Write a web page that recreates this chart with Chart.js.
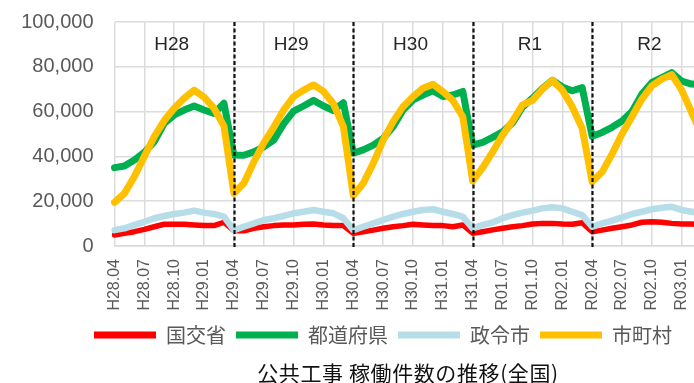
<!DOCTYPE html>
<html lang="ja">
<head>
<meta charset="utf-8">
<script src="https://cdn.jsdelivr.net/npm/chart.js@4/dist/chart.umd.min.js"></script>
<style>
  html, body { margin: 0; padding: 0; background: #fff; }
  #frame { width: 694px; height: 383px; overflow: hidden; position: relative; }
  #frame canvas { display: block; }
</style>
</head>
<body>
<div id="frame"><canvas id="chart" width="744" height="383"></canvas></div>
<script>
// Monthly categories, April H28 through March R03
const months = [
  'H28.04','H28.05','H28.06','H28.07','H28.08','H28.09','H28.10','H28.11','H28.12',
  'H29.01','H29.02','H29.03','H29.04','H29.05','H29.06','H29.07','H29.08','H29.09','H29.10','H29.11','H29.12',
  'H30.01','H30.02','H30.03','H30.04','H30.05','H30.06','H30.07','H30.08','H30.09','H30.10','H30.11','H30.12',
  'H31.01','H31.02','H31.03','H31.04',
  'R01.05','R01.06','R01.07','R01.08','R01.09','R01.10','R01.11','R01.12',
  'R02.01','R02.02','R02.03','R02.04','R02.05','R02.06','R02.07','R02.08','R02.09','R02.10','R02.11','R02.12',
  'R03.01','R03.02','R03.03'
];

// 国交省
const mlit = [
  4900, 5700, 6400, 7400, 8600, 9700, 9700, 9700, 9400, 9100, 9100, 10600,
  6800, 6800, 7900, 8600, 9100, 9400, 9400, 9700, 9800, 9400, 9100, 9100,
  5700, 6400, 7100, 7900, 8600, 9100, 9700, 9400, 9100, 9100, 8600, 9400,
  5700, 6400, 7200, 7900, 8600, 9100, 9800, 10100, 10100, 9800, 9700, 10400,
  6400, 7100, 7900, 8600, 9400, 10600, 10800, 10600, 10100, 9800, 9800, 9500
];

// 都道府県
const prefectures = [
  35000, 35700, 38400, 41800, 46600, 54800, 58500, 60700, 62500, 60700, 59200, 63700,
  40600, 40500, 42000, 44300, 47300, 54500, 60200, 62500, 65000, 62500, 60500, 64000,
  41500, 42900, 45000, 48000, 53300, 60700, 65200, 67400, 69300, 66700, 67400, 69000,
  45000, 46300, 48500, 51000, 55000, 62000, 66000, 70300, 74000, 71000, 69300, 70700,
  49000, 50700, 53000, 55800, 60000, 67800, 73000, 75200, 77400, 73600, 72300, 72000
];

// 政令市
const designatedCities = [
  7100, 7900, 9400, 10800, 12400, 13400, 14300, 14900, 15800, 14900, 14300, 13100,
  7100, 8600, 10100, 11600, 12400, 13400, 14600, 15300, 16100, 15300, 14600, 12400,
  7100, 8600, 10100, 11600, 13100, 14300, 15300, 16100, 16400, 15300, 14300, 13100,
  7900, 9400, 10500, 12400, 13800, 14900, 15800, 16800, 17300, 16800, 15300, 13800,
  8600, 10100, 11300, 12800, 14300, 15300, 16400, 17100, 17500, 16100, 15300, 14500
];

// 市町村
const municipalities = [
  19500, 23500, 31000, 40000, 48800, 56000, 61500, 66000, 69600, 66500, 61500, 53500,
  23500, 28000, 37500, 46000, 53000, 60700, 66700, 69600, 71900, 69000, 63500, 53300,
  22500, 28000, 36900, 47300, 55500, 62200, 66700, 70400, 72200, 68900, 65000, 57700,
  29000, 35000, 42000, 49500, 55800, 63000, 65000, 70000, 74000, 69600, 62200, 52500,
  28700, 33000, 41000, 50000, 57700, 65600, 71500, 74500, 76500, 69600, 59600, 50000
];

const seriesNames = ['国交省', '都道府県', '政令市', '市町村'];

// Fiscal years and the month index where each begins
const fiscalYears = ['H28', 'H29', 'H30', 'R1', 'R2'];
const fiscalStarts = [0, 12, 24, 36, 48];

const yTickValues = [0, 20000, 40000, 60000, 80000, 100000];

const chartTitle = '公共工事 稼働件数の推移(全国)';

const FONT = "'Liberation Sans', 'Noto Sans CJK JP', sans-serif";
const CJK_FONT = "'Noto Sans CJK JP', 'Liberation Sans', sans-serif";
Chart.defaults.font.family = FONT;

// Dashed fiscal-year dividers, year captions and the caption under the legend
const fiscalOverlay = {
  id: 'fiscalOverlay',
  afterDatasetsDraw(chart) {
    const { ctx, chartArea, scales: { x } } = chart;
    ctx.save();
    ctx.strokeStyle = '#111';
    ctx.lineWidth = 2.2;
    ctx.setLineDash([4, 2.5]);
    fiscalStarts.slice(1).forEach(idx => {
      const px = Math.round(x.getPixelForValue(idx)) + 0.5;
      ctx.beginPath();
      ctx.moveTo(px, chartArea.top);
      ctx.lineTo(px, chartArea.bottom + 2);
      ctx.stroke();
    });
    ctx.setLineDash([]);
    ctx.fillStyle = '#262626';
    ctx.font = '19px ' + FONT;
    ctx.textAlign = 'center';
    ctx.textBaseline = 'middle';
    fiscalYears.forEach((label, k) => {
      ctx.fillText(label, x.getPixelForValue(fiscalStarts[k] + 5.75), 45);
    });
    ctx.restore();
  },
  afterDraw(chart) {
    const { ctx } = chart;
    ctx.save();
    ctx.fillStyle = '#111';
    ctx.font = '21px ' + CJK_FONT;
    if ('letterSpacing' in ctx) ctx.letterSpacing = '0.6px';
    ctx.textAlign = 'center';
    ctx.textBaseline = 'middle';
    ctx.fillText(chartTitle, 408, 373);
    ctx.restore();
  }
};

const lineStyle = (color, width, order) => ({
  borderColor: color,
  backgroundColor: color,
  borderWidth: width,
  pointRadius: 0,
  pointHoverRadius: 0,
  tension: 0,
  fill: false,
  borderJoinStyle: 'round',
  borderCapStyle: 'round',
  order
});

new Chart(document.getElementById('chart'), {
  type: 'line',
  data: {
    labels: months,
    datasets: [
      { label: seriesNames[0], data: mlit, ...lineStyle('#FF0000', 5.5, 4) },
      { label: seriesNames[1], data: prefectures, ...lineStyle('#00B050', 7, 3) },
      { label: seriesNames[2], data: designatedCities, ...lineStyle('#B7DEE8', 6.5, 2) },
      { label: seriesNames[3], data: municipalities, ...lineStyle('#FFC000', 7, 1) }
    ]
  },
  options: {
    responsive: false,
    animation: false,
    devicePixelRatio: 1,
    layout: { padding: { left: 22, right: 0, top: 22, bottom: 28 } },
    scales: {
      x: {
        offset: false,
        afterFit(scale) { scale.height = 69; },
        grid: {
          drawTicks: false,
          lineWidth: 1.5,
          color: c => (c.index % 3 === 0 ? '#DCDCDC' : 'rgba(0,0,0,0)')
        },
        border: { display: true, color: '#D9D9D9', width: 1.5 },
        ticks: {
          autoSkip: false,
          minRotation: 90,
          maxRotation: 90,
          padding: 13,
          color: '#595959',
          font: { size: 16 },
          callback(value, index) { return index % 3 === 0 ? months[index] : ''; }
        }
      },
      y: {
        min: yTickValues[0],
        max: yTickValues[yTickValues.length - 1],
        afterFit(scale) { scale.width = 92.5; },
        afterBuildTicks(scale) { scale.ticks = yTickValues.map(v => ({ value: v })); },
        grid: {
          drawTicks: true,
          tickLength: 21,
          tickColor: 'rgba(0,0,0,0)',
          color: '#DCDCDC',
          lineWidth: 1.5
        },
        border: { display: false },
        ticks: {
          padding: 0,
          color: '#595959',
          font: { size: 20 },
          callback: v => v.toLocaleString('en-US')
        }
      },
      // empty margin on the right so the plot stops where the last month lands
      yMargin: {
        type: 'linear',
        position: 'right',
        display: true,
        afterFit(scale) { scale.width = 42.4; },
        grid: { display: false, drawTicks: false },
        border: { display: false },
        ticks: { display: false }
      }
    },
    plugins: {
      legend: {
        position: 'bottom',
        labels: {
          boxWidth: 62,
          boxHeight: 7,
          useBorderRadius: true,
          borderRadius: 3.5,
          padding: 10,
          color: '#595959',
          font: { size: 20, family: CJK_FONT },
          sort: (a, b) => a.datasetIndex - b.datasetIndex,
          generateLabels(chart) {
            return chart.data.datasets.map((ds, i) => ({
              text: ds.label,
              fillStyle: ds.borderColor,
              strokeStyle: ds.borderColor,
              lineWidth: 0,
              hidden: false,
              datasetIndex: i,
              fontColor: '#595959'
            }));
          }
        }
      },
      title: { display: false },
      tooltip: { enabled: false }
    }
  },
  plugins: [fiscalOverlay]
});
</script>
</body>
</html>
